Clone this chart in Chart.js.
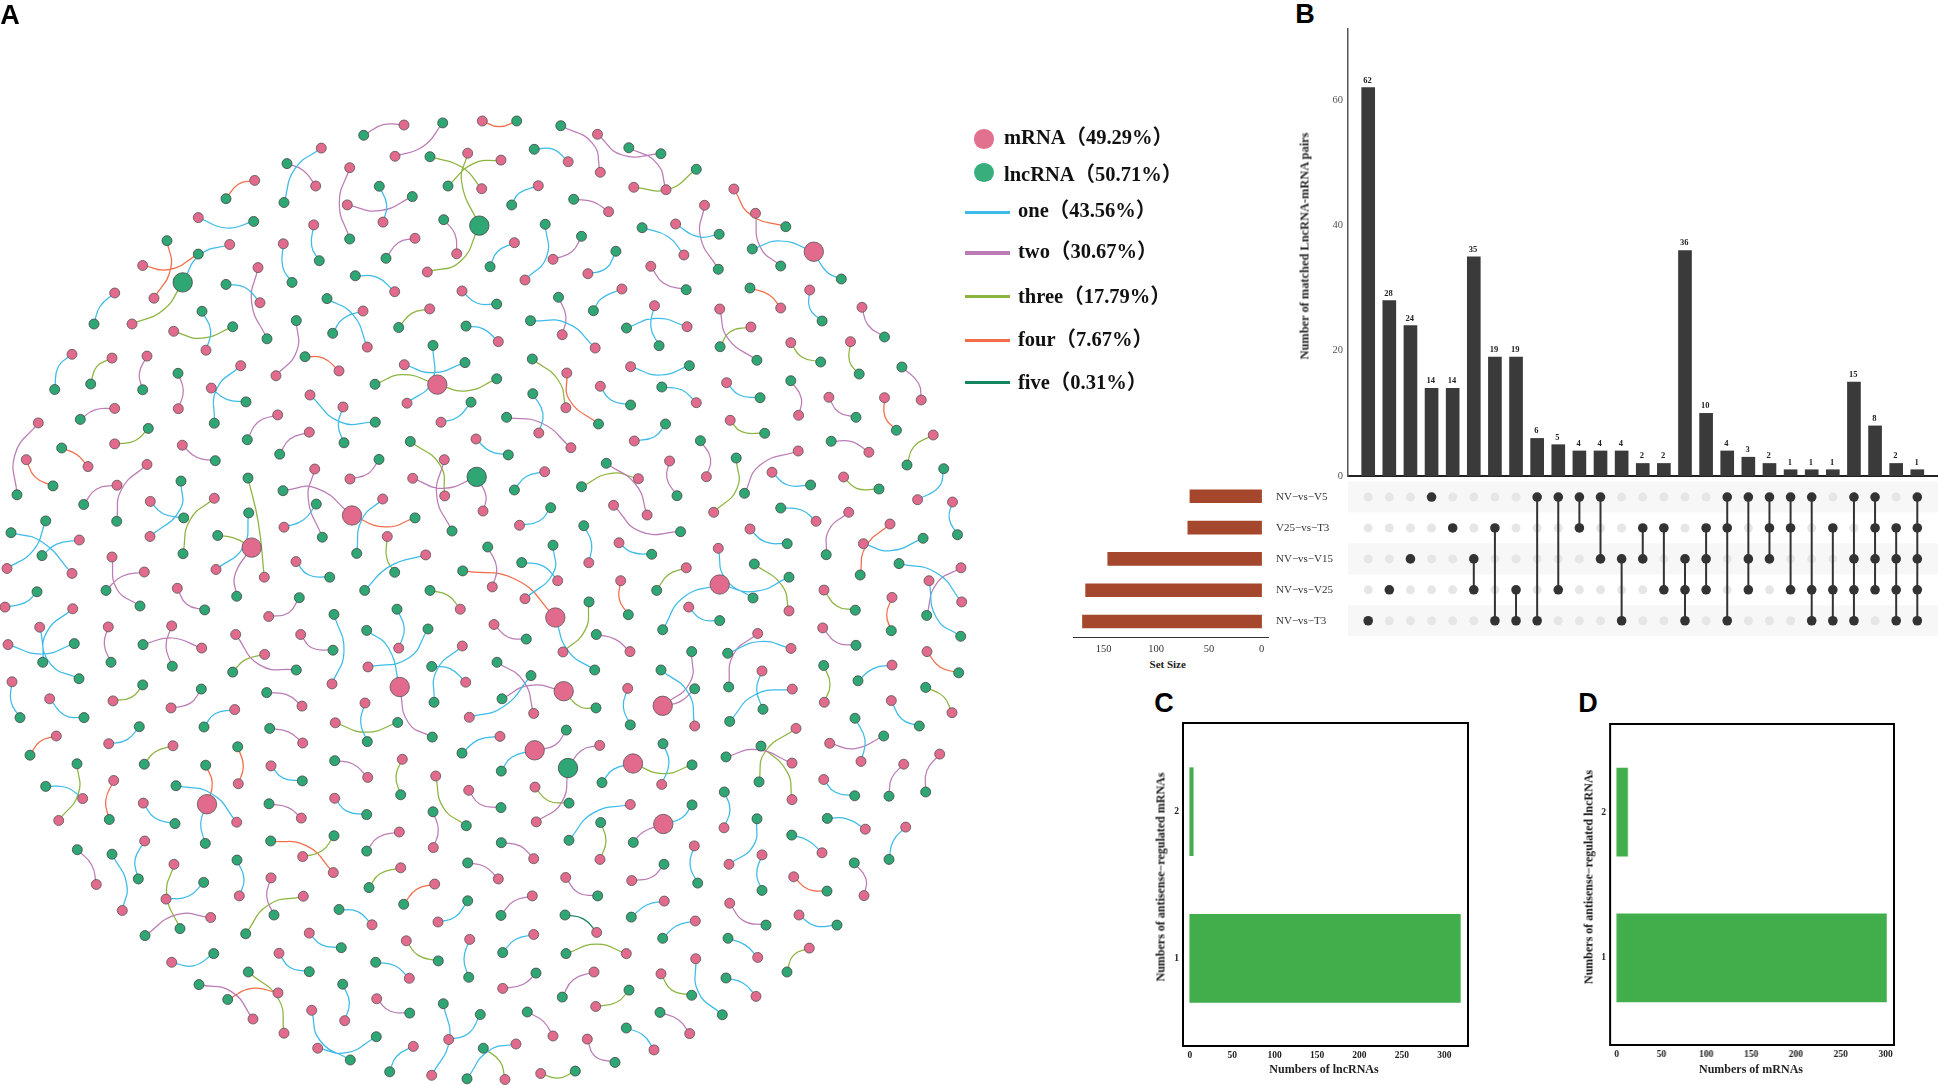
<!DOCTYPE html>
<html><head><meta charset="utf-8">
<style>
html,body{margin:0;padding:0;background:#fff;width:1938px;height:1085px;overflow:hidden}
canvas{position:absolute;display:block}
.t{position:absolute;white-space:nowrap;color:#111}
</style>
<script src="https://cdn.jsdelivr.net/npm/chart.js@4"></script>
</head><body>
<script>
/* ---------- Panel A: link types and legend ---------- */
const linkNames=['one','two','three','four','five'];
const linkShares=['43.56%','30.67%','17.79%','7.67%','0.31%'];
const linkColors=['#3DBBE8','#BB7CB6','#8CB43E','#F26C48','#14855C'];
const nodeShares={mRNA:'49.29%',lncRNA:'50.71%'};
/* each link: [type, mRNA x,y, point on the curve x,y, lncRNA x,y], read in sheet units */
const linksNW=[
[2,1212,363,1150,362,1091,393],[2,1185,454,1270,425,1328,357],[1,964,430,885,490,852,588],[2,947,540,910,495,861,475],
[4,764,524,715,535,678,577],[1,595,632,680,662,761,643],[2,1049,487,1018,590,1049,694],[1,1149,645,1160,595,1138,541],
[2,1042,595,1140,612,1237,571],[3,1403,445,1385,530,1438,655],[3,1282,790,1380,760,1438,655],[3,1445,548,1385,485,1290,455],
[3,1503,465,1420,475,1344,540],[2,1370,737,1365,680,1331,638],[2,1245,692,1195,705,1158,750],[1,941,653,935,715,958,757],
[1,850,708,848,775,876,820],[2,774,777,755,880,801,984],[1,780,879,735,835,678,826],[1,689,710,600,740,548,820],
[4,428,771,510,782,595,738],[4,462,866,512,780,501,699],[3,396,941,490,900,548,820],[1,344,851,300,890,282,941],
[1,618,1017,632,960,606,904],[3,521,962,605,982,698,949],[1,1184,847,1130,805,1066,801],[1,1102,1008,1060,915,981,867],
[1,1089,903,1030,925,998,968],[3,1289,897,1235,910,1196,951],[2,828,1091,890,1020,889,931],[4,1017,1077,970,1040,915,1036],
[1,1386,845,1430,880,1490,883],[1,1495,992,1450,955,1398,947],[3,1312,1117,1210,1088,1125,1116],[3,1312,1117,1400,1135,1490,1100],
[1,1221,1171,1295,1110,1299,1003],[1,1213,1059,1300,1082,1395,1053],[1,1323,1226,1375,1210,1413,1168],[1,216,1029,175,1065,164,1131],
[3,336,1040,290,1065,272,1115],[2,441,1034,418,1085,428,1132],[2,535,1187,550,1135,534,1084],[1,722,1062,650,1130,643,1229],
[1,634,1127,680,1160,738,1167],[1,930,1147,1020,1225,1126,1226],[1,1029,1182,1015,1235,1032,1286],[2,344,1186,285,1190,241,1218],
[3,344,1289,405,1280,445,1244],[2,833,1205,775,1225,742,1277],[2,928,1255,870,1275,839,1319],[2,115,1228,45,1320,51,1437],
[4,264,1355,230,1320,185,1301],[4,79,1335,105,1385,159,1411],[2,547,1293,590,1328,646,1338],[2,441,1349,365,1420,350,1514],
[2,351,1409,290,1420,251,1465],[1,451,1456,490,1492,551,1504],[1,450,1558,540,1480,543,1397],[3,643,1447,570,1510,549,1608],
[1,852,1531,910,1510,949,1464],[2,944,1362,925,1450,967,1560],[2,1056,1497,950,1418,849,1425],[4,1056,1497,1155,1530,1245,1504],
[1,1148,1449,1085,1510,1070,1607],[2,1050,1391,1105,1375,1137,1334],[3,1334,1440,1320,1350,1231,1282],[2,1333,1335,1310,1440,1356,1542],
[2,1238,1389,1330,1418,1430,1385],[2,1449,1484,1458,1440,1430,1385],[1,1428,1275,1470,1310,1525,1321],[3,1162,1558,1160,1620,1184,1662]
];
const linksNE=[
[4,5,63,42,80,80,63],[2,262,217,245,130,176,77],[2,256,103,310,165,394,161],[1,192,185,160,148,118,148],
[2,405,269,385,190,324,143],[3,335,262,410,268,471,208],[1,127,257,85,280,69,315],[2,280,335,245,305,204,298],
[4,553,267,590,345,666,380],[2,600,340,610,440,655,498],[2,489,316,480,410,519,508],[1,426,372,475,410,521,403],
[1,444,465,410,410,353,383],[1,727,455,655,423,593,447],[1,727,455,755,515,787,537],[1,75,428,38,455,22,500],
[1,98,540,145,470,142,373],[2,159,478,200,455,221,409],[1,235,521,275,505,296,454],[2,372,499,400,550,449,569],
[4,655,624,630,585,588,564],[1,718,570,718,625,745,663],[2,832,622,845,675,881,711],[1,309,567,265,595,247,632],
[2,179,704,187,650,171,592],[1,251,744,190,670,110,662],[1,451,680,385,655,319,684],[1,380,617,372,680,390,737],
[2,522,627,540,715,603,781],[3,590,681,545,695,523,740],[3,677,728,700,770,742,786],[3,807,725,805,785,826,822],
[3,187,923,170,840,114,777],[4,189,819,195,900,258,972],[1,328,800,392,825,456,797],[1,262,859,285,900,328,915],
[1,471,908,440,870,396,861],[1,537,848,565,885,610,893],[2,694,946,700,895,677,842],[2,760,892,780,935,819,952],
[4,881,893,882,950,907,991],[2,961,900,955,850,919,801],[1,128,999,137,940,115,881],[2,198,1043,135,970,58,952],
[1,336,1023,380,1010,404,972],[3,545,961,570,995,620,1000],[2,847,1057,810,1025,765,1024],[3,987,1005,945,1040,930,1095],
[2,493,1130,502,1075,480,1022],[2,413,1083,407,1135,429,1187],[3,509,1237,560,1165,558,1074],[2,693,1053,610,1095,576,1180],
[1,636,1117,670,1155,720,1155],[3,792,1131,820,1165,869,1167],[1,953,1199,1000,1160,1010,1106],[1,1029,1206,1022,1255,1040,1304],
[3,345,1136,285,1120,221,1160],[2,364,1245,340,1155,275,1090],[2,291,1216,350,1295,437,1295],[1,141,1115,100,1130,75,1170],
[1,86,1276,130,1262,154,1223],[1,732,1264,700,1230,655,1224],[1,588,1287,620,1325,669,1331],[2,803,1237,760,1290,754,1364],
[4,893,1272,840,1340,828,1425],[1,835,1331,895,1352,965,1315],[1,237,1388,243,1330,226,1277]
];
const linksSW=[
[3,755,22,705,-5,653,-13],[2,755,22,705,100,710,162],[1,648,85,730,20,746,-78],[3,793,107,775,-50,744,-178],
[1,216,96,125,5,33,-21],[1,21,82,100,30,137,-55],[1,238,0,170,12,126,45],
[1,888,62,925,100,989,107],[1,1277,43,1170,75,1094,145],[2,336,49,350,140,420,190],[2,433,92,365,105,318,145],
[1,15,193,75,180,111,149],[2,532,139,560,185,614,201],[3,1381,199,1345,160,1290,145],[2,806,220,865,210,898,166],
[1,996,414,1032,320,1002,214],[2,902,272,935,310,999,317],[1,1196,311,1213,255,1191,199],[1,1104,365,1225,340,1284,256],
[1,1199,423,1165,310,1100,260],[2,1199,423,1225,525,1297,567],[1,218,198,140,265,128,352],[1,119,251,150,355,237,399],
[1,24,301,125,328,223,298],[2,325,250,313,300,333,352],[2,605,311,515,282,429,301],[2,515,247,498,305,517,363],
[2,707,272,780,360,889,374],[3,794,329,735,345,698,380],[1,36,408,33,465,60,511],[1,149,457,195,505,252,511],
[3,339,463,395,452,428,417],[2,513,483,570,470,604,429],[1,704,488,645,500,612,538],[2,906,478,860,445,800,439],
[2,908,584,865,552,809,542],[1,1095,469,1082,525,1102,580],[3,1006,526,1100,553,1193,525],[1,1387,305,1310,375,1302,467],
[1,1397,409,1350,370,1295,364],[4,169,564,120,580,90,619],[1,326,586,380,575,418,537],[3,519,592,465,610,433,645],
[4,715,701,730,650,713,595],[4,621,760,637,700,617,648],[1,710,812,635,730,528,707],[1,621,760,602,815,616,873],
[1,813,650,850,685,907,693],[2,1103,683,1060,645,1004,635],[3,1207,631,1188,680,1202,733],[3,1307,679,1330,770,1399,822],
[2,1406,720,1440,760,1503,770],[1,1004,743,1040,780,1100,790],[2,904,800,865,770,807,759],[1,248,744,200,712,137,709],
[3,176,807,235,730,231,644],[4,341,692,317,750,328,804],[1,430,757,465,800,525,816],[4,1000,957,920,880,812,866],
[3,908,911,965,895,1002,851],[2,1198,840,1135,855,1100,895],[2,1300,885,1315,835,1299,782],[2,289,991,275,935,232,891],
[1,367,1066,380,990,336,904],[1,434,866,405,920,415,975],[3,522,933,500,1020,540,1118],[1,498,1033,565,1025,611,985],
[2,632,1086,530,1078,435,1138],[1,718,1024,732,975,711,921],[2,813,972,800,1025,822,1079],[3,910,1025,805,1050,737,1133],
[3,1202,943,1140,960,1107,1000],[4,1304,990,1250,1005,1211,1048],[2,1495,975,1455,940,1403,929],[1,1314,1099,1365,1085,1403,1038],
[1,1116,1107,1075,1070,1017,1063],[1,928,1131,965,1165,1024,1173],[1,515,1215,580,1225,641,1190],[1,837,1189,870,1230,928,1242],
[3,1219,1153,1255,1195,1315,1211],[1,1228,1261,1185,1225,1127,1215],[1,1409,1149,1392,1205,1406,1258],[2,759,1378,695,1300,597,1279],
[4,834,1303,755,1290,683,1322],[3,852,1419,835,1320,745,1243],[1,1034,1383,1048,1330,1028,1278],[2,1130,1320,1170,1355,1229,1361],
[1,935,1353,960,1440,1051,1496],[1,953,1462,1040,1475,1129,1429],[1,1295,1540,1348,1440,1330,1334],[1,1346,1437,1405,1420,1441,1365],
[1,1240,1457,1190,1485,1169,1530]
];
const linksSE=[
[4,226,223,110,115,-52,89],[1,-32,510,70,480,153,390],[1,60,565,-5,575,-54,613],[1,108,1450,25,1470,-39,1550],
[2,37,135,50,80,23,20],[1,135,169,220,95,219,15],[1,233,117,190,75,125,65],[1,417,8,455,35,515,41],
[3,619,80,565,100,530,145],[1,719,128,610,165,548,258],[1,719,128,825,148,927,107],[1,715,24,735,110,819,167],
[3,927,204,905,130,823,69],[4,422,117,418,170,445,215],[1,626,193,665,228,719,232],[3,249,322,315,260,327,178],
[1,226,223,265,320,344,374],[2,42,243,85,280,139,285],[2,450,321,405,285,349,272],[3,1032,144,1070,190,1126,202],
[4,1236,165,1220,215,1234,261],[2,1443,80,1370,125,1340,217],[1,1347,117,1370,225,1442,277],[1,1445,178,1370,95,1257,68],
[2,1028,253,1070,295,1128,303],[2,833,269,760,330,746,423],[1,933,312,840,292,743,326],[2,548,477,630,410,635,321],
[2,548,477,600,465,644,428],[1,644,535,625,440,543,374],[2,161,499,130,405,51,352],[2,251,435,150,418,66,457],
[3,251,435,300,480,348,483],[1,443,427,430,480,451,532],[1,846,377,830,430,849,487],[1,937,429,825,445,749,522],
[3,1033,467,1050,415,1031,361],[1,1236,360,1180,370,1134,405],[4,1341,321,1380,365,1436,382],[1,1234,462,1265,515,1318,535],
[3,1416,497,1390,450,1337,424],[2,164,605,225,590,259,547],[1,164,605,95,625,64,665],[2,359,591,305,605,264,656],
[2,169,811,245,755,264,656],[3,165,711,205,750,267,757],[1,459,643,400,660,366,698],[3,459,643,550,672,636,647],
[1,545,703,567,640,549,586],[3,948,542,855,610,837,696],[2,936,642,830,603,738,624],[3,936,747,920,665,843,593],
[1,1143,637,1155,575,1125,513],[2,1049,585,1125,600,1211,564],[1,1031,689,1065,725,1124,736],[2,1271,645,1235,685,1227,737],
[2,1379,616,1340,665,1337,725],[1,732,828,750,775,733,725],[1,747,933,820,880,831,802],[1,1156,832,1100,802,1042,801],
[1,1026,900,985,865,935,849],[1,1277,826,1240,865,1227,919],[1,451,761,340,785,267,864],[3,360,919,378,865,362,813],
[2,550,817,490,840,460,870],[1,550,817,605,800,636,762],[2,161,917,120,880,64,871],[2,257,971,295,1015,353,1024],
[2,455,980,515,970,552,933],[1,643,880,630,935,653,987],[1,846,906,830,960,846,1008],[4,941,969,985,1005,1041,1010],
[2,1152,1023,1158,975,1123,929],[2,157,1024,100,1040,63,1080],[1,553,1039,500,1050,454,1085],[2,749,1045,790,1095,858,1108],
[1,957,1079,1005,1110,1071,1108],[5,350,1129,310,1090,255,1079],[1,161,1135,105,1150,68,1187],[3,439,1190,350,1163,258,1190],
[1,646,1096,590,1110,548,1146],[1,833,1201,795,1165,744,1146],[3,988,1174,940,1195,921,1243],[2,68,1290,130,1278,168,1246],
[2,342,1243,280,1265,247,1315],[3,347,1342,410,1330,447,1295],[3,543,1248,575,1295,635,1310],[1,647,1205,655,1300,727,1366],
[1,828,1313,790,1275,738,1260],[2,219,1427,190,1385,142,1358],[1,522,1467,490,1425,439,1404],[2,629,1420,595,1380,540,1359],
[2,322,1436,345,1485,405,1503],[3,182,1535,235,1548,286,1528],[3,75,1552,60,1500,10,1462]
];
const hubsNW=[[1438,655],[548,820],[1312,1117],[1056,1497],[1430,1385]];
const hubsNE=[[727,455]];
const hubsSW=[[755,22],[1199,423],[621,760]];
const hubsSE=[[719,128],[226,223],[548,477],[251,435],[164,605],[264,656],[459,643],[550,817]];

/* ---------- Panel B: intersections ---------- */
const setNames=['NV\u2212vs\u2212V5','V25\u2212vs\u2212T3','NV\u2212vs\u2212V15','NV\u2212vs\u2212V25','NV\u2212vs\u2212T3'];
const setSizes=[68,70,146,167,170];
const intersectionSizes=[62,28,24,14,14,35,19,19,6,5,4,4,4,2,2,36,10,4,3,2,1,1,1,15,8,2,1];
const intersectionSets=[[4],[3],[2],[0],[1],[2,3],[1,4],[3,4],[0,4],[0,3],[0,1],[0,2],[2,4],[1,2],[1,3],[2,3,4],[1,2,3],[0,1,4],[0,2,3],[0,1,2],[0,1,3],[0,3,4],[1,3,4],[0,2,3,4],[0,1,2,3],[1,2,3,4],[0,1,2,3,4]];

/* ---------- Panels C and D ---------- */
const countLevels=[1,2];
const lncRNACounts=[319,4];
const mRNACounts=[301,12];

/* ---------- helpers ---------- */
const SERIF="'Liberation Serif','Noto Sans CJK SC',serif";
const frames=[[linksNW,hubsNW,3,2.904,0,0],[linksNE,hubsNE,2.178,3,480,100],[linksSW,hubsSW,3,2.877,0,540],[linksSE,hubsSE,3,2.877,480,540]];
function tag(text,x,y,css,rot){
  const d=document.createElement('div');d.className='t';d.textContent=text;
  d.style.cssText='left:'+x+'px;top:'+y+'px;'+css;
  d.style.transform=rot?'translate(-50%,-50%) rotate(-90deg)':(css.includes('text-align:left')?'translate(0,-50%)':'translate(-50%,-50%)');
  document.body.appendChild(d);
}
function canvasAt(b){
  const c=document.createElement('canvas');c.width=b.w;c.height=b.h;
  c.style.left=b.l+'px';c.style.top=b.t+'px';c.style.width=b.w+'px';c.style.height=b.h+'px';
  document.body.appendChild(c);return c.getContext('2d');
}
/* yShown / xShown: the axis box itself takes that side's space */
function pad(b,p,yShown,xShown){return {autoPadding:false,padding:{left:yShown?0:p.l-b.l,top:p.t-b.t,right:b.l+b.w-p.r,bottom:xShown?0:b.t+b.h-p.b}};}
const fitW=(b,p)=>s=>{s.width=p.l-b.l;};
const fitH=(b,p)=>s=>{s.height=b.t+b.h-p.b;};
const only=v=>s=>{s.ticks=v.map(x=>({value:x}));};
const base={responsive:false,animation:false,devicePixelRatio:1,events:[],maintainAspectRatio:false,
  plugins:{legend:{display:false},tooltip:{enabled:false}}};
const serifTick=(size,weight,color)=>({font:{family:SERIF,size:size,weight:weight},color:color});

/* ---------- Panel A ---------- */
(function(){
  const edges=linkNames.map(()=>[]);const nodes={m:new Map(),l:new Map()};
  const conv=(f,x,y)=>({x:+(x/f[2]+f[4]).toFixed(1),y:+(y/f[3]+f[5]).toFixed(1)});
  const hubKeys=new Set();
  frames.forEach(f=>f[1].forEach(h=>{const p=conv(f,h[0],h[1]);hubKeys.add(p.x+','+p.y);}));
  /* keep the curve point in the middle part of its chord so every link stays a single arc */
  const arcPoint=(a,c,b)=>{
    const dx=b.x-a.x,dy=b.y-a.y,L2=dx*dx+dy*dy||1;
    const t=((c.x-a.x)*dx+(c.y-a.y)*dy)/L2,s=((c.x-a.x)*dy-(c.y-a.y)*dx)/L2;
    const u=Math.min(.62,Math.max(.38,t));
    return {x:a.x+dx*u+dy*s,y:a.y+dy*u-dx*s};
  };
  frames.forEach(f=>f[0].forEach(r=>{
    const a=conv(f,r[1],r[2]),c=conv(f,r[3],r[4]),b=conv(f,r[5],r[6]);
    edges[r[0]-1].push(a,arcPoint(a,c,b),b,{x:null,y:null});
    nodes.m.set(a.x+','+a.y,a);nodes.l.set(b.x+','+b.y,b);
  }));
  const radii=arr=>arr.map(p=>hubKeys.has(p.x+','+p.y)?9.7:5);
  const mPts=[...nodes.m.values()],lPts=[...nodes.l.values()];
  const ds=[
    {type:'scatter',data:mPts,backgroundColor:'#E26B8D',borderColor:'#555',borderWidth:.8,pointRadius:radii(mPts)},
    {type:'scatter',data:lPts,backgroundColor:'#2FA775',borderColor:'#444',borderWidth:.8,pointRadius:radii(lPts)}
  ];
  linkNames.forEach((n,i)=>ds.push({type:'line',label:n,data:edges[i],borderColor:linkColors[i],borderWidth:1.25,pointRadius:0,tension:.5,spanGaps:false,fill:false}));
  new Chart(canvasAt({l:0,t:0,w:1000,h:1085}),{type:'scatter',data:{datasets:ds},options:{...base,
    layout:{autoPadding:false,padding:0},clip:false,
    scales:{x:{type:'linear',display:false,min:0,max:1000},y:{type:'linear',display:false,min:0,max:1085,reverse:true}}}});
})();
const legendFont="font:bold 20.5px "+SERIF+";text-align:left;";
function dot(x,y,c){const d=document.createElement('div');d.style.cssText='position:absolute;left:'+(x-9.6)+'px;top:'+(y-9.6)+'px;width:19.2px;height:19.2px;border-radius:50%;background:'+c;document.body.appendChild(d);}
dot(984,139,'#E2708F');dot(984,172.7,'#37AE7C');
tag('mRNA\uFF08'+nodeShares.mRNA+'\uFF09',1004,135,legendFont);
tag('lncRNA\uFF08'+nodeShares.lncRNA+'\uFF09',1004,172,legendFont);
[212.7,253,296.7,340.7,382.3].forEach((y,i)=>{
  const d=document.createElement('div');d.style.cssText='position:absolute;left:965px;width:45px;height:3.4px;top:'+(y-1.7)+'px;background:'+linkColors[i];document.body.appendChild(d);
});
[208,249,294,336.7,379.7].forEach((y,i)=>tag(linkNames[i]+'\uFF08'+linkShares[i]+'\uFF09',1018,y,legendFont));
const letter="font:bold 27px 'Liberation Sans',sans-serif;color:#000;";
tag('A',10,15,letter);tag('B',1305,14,letter);tag('C',1164,703,letter);tag('D',1588,703,letter);

/* ---------- Panel B: top bars ---------- */
const colX={min:0.0436,max:27.98};
const colIdx=intersectionSizes.map((_,i)=>i+1);
const barValues={id:'barValues',afterDatasetsDraw(c){
  const g=c.ctx,xs=c.scales.x,ys=c.scales.y;g.save();g.font='bold 8.5px '+SERIF;g.fillStyle='#222';g.textAlign='center';g.textBaseline='bottom';
  intersectionSizes.forEach((v,i)=>g.fillText(String(v),xs.getPixelForValue(colIdx[i])-.8,ys.getPixelForValue(v)-3));g.restore();}};
(function(){
  const b={l:1300,t:20,w:638,h:470},p={l:1348,t:29,r:1938,b:476};
  new Chart(canvasAt(b),{type:'bar',plugins:[barValues],
    data:{datasets:[{data:intersectionSizes.map((v,i)=>({x:colIdx[i],y:v})),backgroundColor:'#3A3A3A',barThickness:13}]},
    options:{...base,layout:pad(b,p,true,true),scales:{
      x:{type:'linear',offset:false,min:colX.min,max:colX.max,grid:{display:false},ticks:{display:false},border:{color:'#222',width:2},afterFit:fitH(b,p)},
      y:{type:'linear',min:0,max:71.37,grid:{display:false,drawTicks:true,tickLength:3},afterBuildTicks:only([0,20,40,60]),
         ticks:{...serifTick(10.5,'normal','#555'),padding:2},border:{color:'#555',width:1.5},afterFit:fitW(b,p)}}}});
  tag('Number of matched LncRNA-mRNA pairs',1304.6,245.6,"font:bold 12.4px "+SERIF+";color:#222;",true);
})();

/* ---------- Panel B: membership matrix ---------- */
const rowBands={id:'rowBands',beforeDatasetsDraw(c){
  const g=c.ctx,a=c.chartArea,ys=c.scales.y;g.save();g.fillStyle='#F7F7F7';
  const h=(a.bottom-a.top)/setNames.length;
  setNames.forEach((n,i)=>{if(i%2===0)g.fillRect(a.left,ys.getPixelForValue(i)-h/2,a.right-a.left,h);});g.restore();}};
(function(){
  const b={l:1276,t:475,w:662,h:170},p={l:1348,t:479.6,r:1938,b:636.2};
  const grey=[],dark=[],bars=[];
  intersectionSets.forEach((rows,i)=>{
    setNames.forEach((n,r)=>{(rows.includes(r)?dark:grey).push({x:colIdx[i],y:n});});
    if(rows.length>1){bars.push({x:colIdx[i],y:setNames[rows[0]]},{x:colIdx[i],y:setNames[rows[rows.length-1]]},{x:null,y:null});}
  });
  new Chart(canvasAt(b),{type:'scatter',plugins:[rowBands],
    data:{datasets:[
      {type:'scatter',data:dark,backgroundColor:'#333',pointRadius:4.8,borderWidth:0},
      {type:'line',data:bars,borderColor:'#333',borderWidth:2,pointRadius:0,spanGaps:false,tension:0},
      {type:'scatter',data:grey,backgroundColor:'#E6E6E6',pointRadius:4.5,borderWidth:0}]},
    options:{...base,layout:pad(b,p,true,false),scales:{
      x:{type:'linear',display:false,min:colX.min,max:colX.max},
      y:{type:'category',labels:setNames,offset:true,grid:{display:false,drawTicks:false},border:{display:false},
         ticks:{...serifTick(11,'normal','#333'),crossAlign:'far',padding:0},afterFit:fitW(b,p)}}}});
})();

/* ---------- Panel B: set sizes ---------- */
(function(){
  const b={l:1070,t:476,w:200,h:180},p={l:1073,t:480.6,r:1268,b:637.2};
  new Chart(canvasAt(b),{type:'bar',
    data:{labels:setNames,datasets:[{data:setSizes,backgroundColor:'#A5472C',barThickness:13}]},
    options:{...base,indexAxis:'y',layout:pad(b,p,false,true),scales:{
      y:{display:false},
      x:{type:'linear',reverse:true,min:-6.1,max:179,grid:{display:false,tickLength:3},afterBuildTicks:only([150,100,50,0]),
         ticks:serifTick(10.5,'normal','#333'),border:{color:'#333',width:1},afterFit:fitH(b,p)}}}});
  tag('Set Size',1167.7,664,"font:bold 11px "+SERIF+";color:#222;");
})();

/* ---------- Panels C and D ---------- */
const frameBox={id:'frameBox',afterDraw(c){const g=c.ctx,a=c.chartArea;g.save();g.strokeStyle='#000';g.lineWidth=2;
  g.strokeRect(a.left,a.top,a.right-a.left,a.bottom-a.top);g.restore();}};
function countPanel(p,values,xMin,xMax,yTitle,yTitleX,xTitle,xTitleX){
  const b={l:p.l-24,t:p.t-8,w:p.r-p.l+34,h:p.b-p.t+24};
  new Chart(canvasAt(b),{type:'bar',plugins:[frameBox],
    data:{datasets:[{data:values.map((v,i)=>({x:v,y:countLevels[i]})),backgroundColor:'#41AD4B',barThickness:88}]},
    options:{...base,indexAxis:'y',layout:pad(b,p,true,true),scales:{
      x:{type:'linear',min:xMin,max:xMax,offset:false,grid:{display:false,tickLength:3},afterBuildTicks:only([0,50,100,150,200,250,300]),
         ticks:{...serifTick(9.5,'bold','#222'),padding:1,maxRotation:0},border:{display:false},afterFit:fitH(b,p)},
      y:{type:'linear',min:.402,max:2.605,offset:false,grid:{display:false,tickLength:3},afterBuildTicks:only(countLevels),
         ticks:{...serifTick(9.5,'bold','#222'),padding:1},border:{display:false},afterFit:fitW(b,p)}}}});
  tag(yTitle,yTitleX,876.5,"font:bold 12px "+SERIF+";color:#111;",true);
  tag(xTitle,xTitleX,1068.5,"font:bold 12px "+SERIF+";color:#222;");
}
countPanel({l:1183,t:723,r:1468,b:1046},lncRNACounts,-8,328,'Numbers of antisense\u2212regulated mRNAs',1161,'Numbers of lncRNAs',1324);
countPanel({l:1610.3,t:724,r:1894,b:1045},mRNACounts,-7.5,309.5,'Numbers of antisense\u2212regulated lncRNAs',1588.6,'Numbers of mRNAs',1751);
</script>
</body></html>
